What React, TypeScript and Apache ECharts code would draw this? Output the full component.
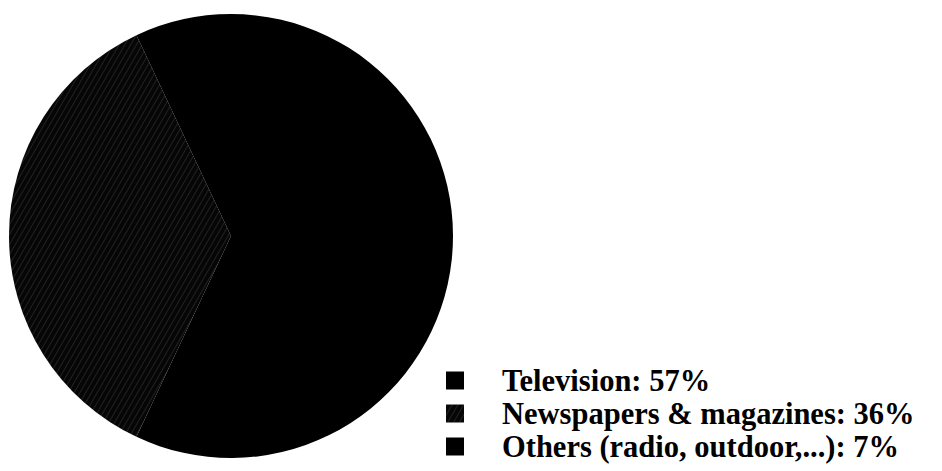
import React, { useEffect, useRef } from "react";
import * as echarts from "echarts";

const categories = ["Television", "Newspapers & magazines", "Others (radio, outdoor,...)"];
const values = [57, 36, 7];

export default function App() {
  const ref = useRef<HTMLDivElement>(null);
  useEffect(() => {
    if (!ref.current) return;
    const chart = echarts.init(ref.current, undefined, { renderer: "svg" });
    const colors = ["#000000", "#060606", "#000000"];
    chart.setOption({
      animation: false,
      backgroundColor: "#ffffff",
      legend: {
        orient: "vertical",
        left: 441,
        top: 360,
        height: 110,
        itemWidth: 18,
        itemHeight: 18,
        itemGap: 2,
        icon: "rect",
        data: categories,
        formatter: (name: string) => {
          const i = categories.indexOf(name);
          return `${name}: ${values[i]}%`;
        },
        textStyle: {
          fontFamily: "Liberation Serif",
          fontSize: 30.5,
          lineHeight: 30,
          fontWeight: "bold",
          color: "#000",
          padding: [0, 0, 0, 33],
        },
      },
      series: [
        {
          type: "pie",
          center: [231, 236],
          radius: [0, 222],
          startAngle: 90,
          clockwise: true,
          label: { show: false },
          labelLine: { show: false },
          emphasis: { disabled: true },
          itemStyle: { borderWidth: 0 },
          data: categories.map((c, i) => ({
            name: c,
            value: values[i],
            itemStyle: {
              color: colors[i],
              decal:
                i === 1
                  ? {
                      symbol: "rect",
                      color: "rgba(255,255,255,0.11)",
                      dashArrayX: [1, 0],
                      dashArrayY: [1, 4],
                      rotation: -Math.PI / 3,
                    }
                  : {
                      symbol: "circle",
                      symbolSize: 0.5,
                      color: "rgba(255,255,255,0.5)",
                      dashArrayX: [[1, 13], [1, 9]],
                      dashArrayY: [1, 11],
                    },
            },
          })),
        },
      ],
    });
    return () => chart.dispose();
  }, []);
  return (
    <div
      ref={ref}
      style={{ position: "fixed", left: 0, top: 0, width: 942, height: 471 }}
    />
  );
}
